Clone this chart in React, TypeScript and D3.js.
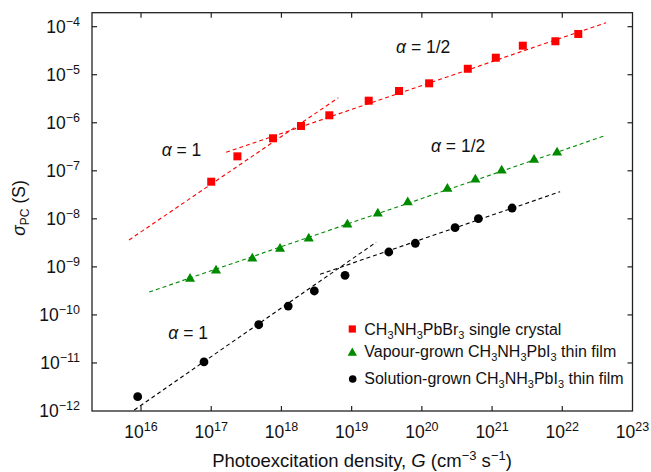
import React from "react";
import * as d3 from "d3";

// ---- data ----
const xTickExps = [16, 17, 18, 19, 20, 21, 22, 23];
const yTickExps = [-12, -11, -10, -9, -8, -7, -6, -5, -4];

// CH3NH3PbBr3 single crystal (red squares)
const redG = [1.0e17, 2.36e17, 7.59e17, 1.9e18, 4.81e18, 1.75e19, 4.73e19, 1.27e20, 4.51e20, 1.13e21, 2.74e21, 7.98e21, 1.69e22];
const redS = [5.93e-8, 2.0e-7, 4.75e-7, 8.57e-7, 1.43e-6, 2.88e-6, 4.58e-6, 6.62e-6, 1.33e-5, 2.26e-5, 4.02e-5, 4.97e-5, 7.05e-5];

// Vapour-grown CH3NH3PbI3 thin film (green triangles)
const greenG = [4.99e16, 1.17e17, 3.85e17, 9.55e17, 2.45e18, 8.69e18, 2.36e19, 6.3e19, 2.31e20, 5.78e20, 1.37e21, 3.96e21, 8.43e21];
const greenS = [5.78e-10, 8.61e-10, 1.53e-9, 2.44e-9, 3.99e-9, 7.82e-9, 1.32e-8, 2.26e-8, 4.33e-8, 6.75e-8, 1.04e-7, 1.73e-7, 2.46e-7];

// Solution-grown CH3NH3PbI3 thin film (black circles)
const blackG = [8.97e15, 7.89e16, 4.75e17, 1.25e18, 2.94e18, 8.05e18, 3.38e19, 8.07e19, 2.97e20, 6.38e20, 1.93e21];
const blackS = [1.99e-12, 1.05e-11, 6.25e-11, 1.53e-10, 3.15e-10, 6.68e-10, 2.04e-9, 3.1e-9, 6.55e-9, 1.01e-8, 1.68e-8];

// fit lines: [G, sigma] end points
const redFit1: [number, number][] = [[6.75e15, 3.63e-9], [6.46e18, 3.31e-6]];
const redFitHalf: [number, number][] = [[1.63e17, 2.43e-7], [4.21e22, 1.21e-4]];
const greenFitHalf: [number, number][] = [[1.31e16, 3.0e-10], [3.94e22, 5.3e-7]];
const blackFit1: [number, number][] = [[8.02e15, 1.05e-12], [2.23e19, 3.25e-9]];
const blackFitHalf: [number, number][] = [[3.55e18, 7.02e-10], [9.31e21, 3.67e-8]];

// annotations: [G, sigma, label] (left end of text, baseline)
const annotations: [number, number, string][] = [
  [1.97e16, 2.03e-7, "1"],
  [4.29e19, 2.83e-5, "1/2"],
  [1.35e20, 2.46e-7, "1/2"],
  [2.45e16, 3.16e-11, "1"],
];

const RED = "#ff0000";
const GREEN = "#008a00";
const BLACK = "#000000";
const FONT = "'Liberation Sans', Arial, Helvetica, sans-serif";

export default function App() {
  const left = 92, right = 632.5, top = 12.7, bottom = 411;
  const x = d3.scaleLog().domain([Math.pow(10, 15.302), 1e23]).range([left, right]);
  const y = d3.scaleLog().domain([1e-12, Math.pow(10, -3.709)]).range([bottom, top]);
  const line = d3.line<[number, number]>().x((d) => x(d[0])).y((d) => y(d[1]));
  const tri = d3.symbol().type(d3.symbolTriangle).size(44)();
  const triLeg = d3.symbol().type(d3.symbolTriangle).size(38)();

  const fits: [[number, number][], string][] = [
    [redFit1, RED],
    [redFitHalf, RED],
    [greenFitHalf, GREEN],
    [blackFit1, BLACK],
    [blackFitHalf, BLACK],
  ];
  const tickLen = 5;
  const axisColor = "#222";

  return (
    <div style={{ position: "fixed", left: 0, top: 0 }}>
      <svg width={651} height={472} style={{ display: "block", background: "#fff" }} fontFamily={FONT}>
        {/* fit lines */}
        {fits.map(([pts, c], i) => (
          <path key={i} d={line(pts) || ""} fill="none" stroke={c} strokeWidth={1.1} strokeDasharray="4,3" />
        ))}
        {/* markers */}
        {redG.map((g, i) => (
          <rect key={"r" + i} x={x(g) - 4} y={y(redS[i]) - 4} width={8} height={8} fill={RED} />
        ))}
        {greenG.map((g, i) => (
          <path key={"g" + i} d={tri || ""} transform={`translate(${x(g)},${y(greenS[i]) + 0.5})`} fill={GREEN} />
        ))}
        {blackG.map((g, i) => (
          <circle key={"b" + i} cx={x(g)} cy={y(blackS[i])} r={4.4} fill={BLACK} />
        ))}
        {/* annotations */}
        {annotations.map(([g, s, lab], i) => (
          <text key={"a" + i} x={x(g)} y={y(s)} fontSize={17.5} fill="#111">
            <tspan fontStyle="italic">α</tspan>
            {" = " + lab}
          </text>
        ))}
        {/* frame */}
        <rect x={left} y={top} width={right - left} height={bottom - top} fill="none" stroke={axisColor} strokeWidth={1.3} />
        {xTickExps.map((e) => {
          const xv = x(Math.pow(10, e));
          return (
            <g key={"xt" + e}>
              {e < 23 && <line x1={xv} x2={xv} y1={bottom} y2={bottom - tickLen} stroke={axisColor} strokeWidth={1.2} />}
              {e < 23 && <line x1={xv} x2={xv} y1={top} y2={top + tickLen} stroke={axisColor} strokeWidth={1.2} />}
              <text x={xv} y={438} fontSize={17.5} textAnchor="middle" fill="#111">
                10<tspan fontSize={12.5} dy={-7}>{e}</tspan>
              </text>
            </g>
          );
        })}
        {yTickExps.map((e) => {
          const yv = y(Math.pow(10, e));
          return (
            <g key={"yt" + e}>
              {e > -12 && <line x1={left} x2={left + tickLen} y1={yv} y2={yv} stroke={axisColor} strokeWidth={1.2} />}
              {e > -12 && <line x1={right} x2={right - tickLen} y1={yv} y2={yv} stroke={axisColor} strokeWidth={1.2} />}
              <text x={80} y={yv + 6.3} fontSize={17.5} textAnchor="end" fill="#111">
                10<tspan fontSize={12.5} dy={-7}>{"\u2212" + Math.abs(e)}</tspan>
              </text>
            </g>
          );
        })}
        {/* axis titles */}
        <text x={362} y={467} fontSize={18.5} textAnchor="middle" fill="#111">
          Photoexcitation density, <tspan fontStyle="italic">G</tspan> (cm
          <tspan fontSize={13} dy={-7}>{"\u22123"}</tspan>
          <tspan dy={7}> s</tspan>
          <tspan fontSize={13} dy={-7}>{"\u22121"}</tspan>
          <tspan dy={7}>)</tspan>
        </text>
        <text transform="translate(25,208) rotate(-90)" fontSize={17.5} textAnchor="middle" fill="#111">
          <tspan fontStyle="italic">σ</tspan>
          <tspan fontSize={12} dy={4}>PC</tspan>
          <tspan dy={-4}> (S)</tspan>
        </text>
        {/* legend */}
        <g fontSize={16} fill="#111">
          <rect x={352.3 - 3.6} y={329 - 3.6} width={7.2} height={7.2} fill={RED} />
          <text x={364.3} y={335}>
            CH<tspan fontSize={11} dy={4}>3</tspan>
            <tspan dy={-4}>NH</tspan>
            <tspan fontSize={11} dy={4}>3</tspan>
            <tspan dy={-4}>PbBr</tspan>
            <tspan fontSize={11} dy={4}>3</tspan>
            <tspan dy={-4}> single crystal</tspan>
          </text>
          <path d={triLeg || ""} transform="translate(352.3,353)" fill={GREEN} />
          <text x={364.3} y={357}>
            Vapour-grown CH<tspan fontSize={11} dy={4}>3</tspan>
            <tspan dy={-4}>NH</tspan>
            <tspan fontSize={11} dy={4}>3</tspan>
            <tspan dy={-4}>PbI</tspan>
            <tspan fontSize={11} dy={4}>3</tspan>
            <tspan dy={-4}> thin film</tspan>
          </text>
          <circle cx={352.7} cy={379} r={3.8} fill={BLACK} />
          <text x={364.3} y={384}>
            Solution-grown CH<tspan fontSize={11} dy={4}>3</tspan>
            <tspan dy={-4}>NH</tspan>
            <tspan fontSize={11} dy={4}>3</tspan>
            <tspan dy={-4}>PbI</tspan>
            <tspan fontSize={11} dy={4}>3</tspan>
            <tspan dy={-4}> thin film</tspan>
          </text>
        </g>
      </svg>
    </div>
  );
}
